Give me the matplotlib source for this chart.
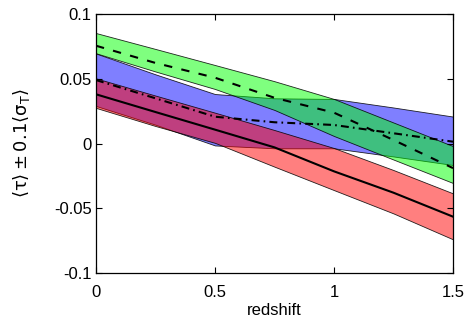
"""Optical depth bands versus redshift for three samples."""

import matplotlib

matplotlib.use("Agg")
import matplotlib.pyplot as plt

redshift = [0.0, 0.25, 0.5, 0.75, 1.0, 1.25, 1.5]

# Green band (dashed centre line).
green_top = [0.0853, 0.0730, 0.0606, 0.0481, 0.0344, 0.0162, -0.0020]
green_mid = [0.0755, 0.0622, 0.0508, 0.0353, 0.0238, 0.0027, -0.0190]
green_low = [0.0697, 0.0556, 0.0421, 0.0259, 0.0058, -0.0124, -0.0305]

# Blue band (dash-dot centre line).
blue_top = [0.0695, 0.0534, 0.0382, 0.0349, 0.0344, 0.0278, 0.0208]
blue_mid = [0.0490, 0.0349, 0.0207, 0.0164, 0.0143, 0.0079, 0.0014]
blue_low = [0.0290, 0.0145, -0.0015, -0.0037, -0.0037, -0.0100, -0.0166]

# Red band (solid centre line).
red_top = [0.0503, 0.0370, 0.0238, 0.0104, -0.0035, -0.0205, -0.0385]
red_mid = [0.0380, 0.0243, 0.0107, -0.0030, -0.0215, -0.0380, -0.0565]
red_low = [0.0275, 0.0135, 0.0005, -0.0179, -0.0360, -0.0540, -0.0740]

x_ticks = [0, 0.5, 1, 1.5]
x_tick_labels = ["0", "0.5", "1", "1.5"]
y_ticks = [-0.1, -0.05, 0, 0.05, 0.1]
y_tick_labels = ["-0.1", "-0.05", "0", "0.05", "0.1"]


def main() -> None:
    plt.rcParams["font.family"] = ["Liberation Sans", "DejaVu Sans"]
    plt.rcParams["mathtext.fontset"] = "dejavusans"
    plt.rcParams["axes.unicode_minus"] = False

    fig = plt.figure(figsize=(4.74, 3.22), dpi=100)
    ax = fig.add_axes([96 / 474, 49 / 322, 357 / 474, 259 / 322])

    edge = dict(edgecolor=(0, 0, 0, 0.85), linewidth=0.6)
    # blue first, so green and red sit on top of it
    ax.fill_between(redshift, blue_low, blue_top, facecolor=(0, 0, 1, 0.5), **edge)
    ax.fill_between(redshift, red_low, red_top, facecolor=(1, 0, 0, 0.5), **edge)
    ax.fill_between(redshift, green_low, green_top, facecolor=(0, 1, 0, 0.5), **edge)

    ax.plot(redshift, green_mid, color="k", linewidth=1.5, linestyle=(0, (4, 4.5)))
    ax.plot(redshift, blue_mid, color="k", linewidth=1.5,
            linestyle=(0, (3.8, 2, 0.8, 2)))
    ax.plot(redshift, red_mid, color="k", linewidth=1.5, linestyle="-")

    ax.set_xlim(0, 1.5)
    ax.set_ylim(-0.1, 0.1)
    ax.set_xticks(x_ticks)
    ax.set_xticklabels(x_tick_labels)
    ax.set_yticks(y_ticks)
    ax.set_yticklabels(y_tick_labels)
    ax.tick_params(direction="in", length=4, width=0.8, labelsize=12,
                   top=True, right=True)
    ax.tick_params(axis="x", pad=8.5)
    ax.tick_params(axis="y", pad=3)
    for spine in ax.spines.values():
        spine.set_linewidth(0.9)

    ax.set_xlabel("redshift", fontsize=12, labelpad=2)
    ax.set_ylabel(r"$\mathrm{\langle\tau\rangle \pm 0.1\langle\sigma_T\rangle}$",
                  fontsize=13, labelpad=16)

    fig.savefig("out.png", dpi=100)
    plt.close(fig)


if __name__ == "__main__":
    main()
